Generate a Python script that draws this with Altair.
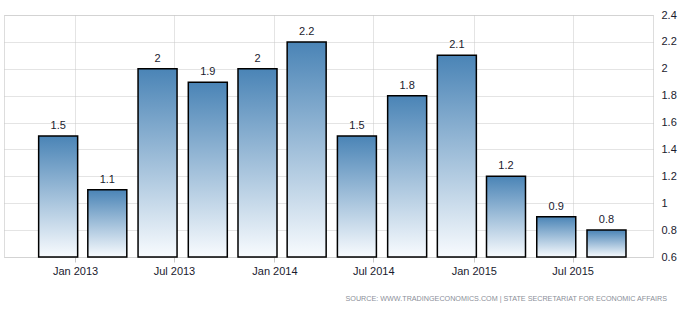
import altair as alt
import pandas as pd

dates = ["2012-12-01", "2013-03-01", "2013-06-01", "2013-09-01",
         "2013-12-01", "2014-03-01", "2014-06-01", "2014-09-01",
         "2014-12-01", "2015-03-01", "2015-06-01", "2015-09-01"]
values = [1.5, 1.1, 2.0, 1.9, 2.0, 2.2, 1.5, 1.8, 2.1, 1.2, 0.9, 0.8]
labels = ["1.5", "1.1", "2", "1.9", "2", "2.2", "1.5", "1.8", "2.1", "1.2", "0.9", "0.8"]
y_ticks = [0.6, 0.8, 1.0, 1.2, 1.4, 1.6, 1.8, 2.0, 2.2, 2.4]
tick_dates = [(2013, 1), (2013, 7), (2014, 1), (2014, 7), (2015, 1), (2015, 7)]
source = "SOURCE: WWW.TRADINGECONOMICS.COM | STATE SECRETARIAT FOR ECONOMIC AFFAIRS"

df = pd.DataFrame({"date": dates, "value": values, "label": labels})

FONT = "Liberation Sans"
GRID = "#c8c8c8"
TXT = "#1a1a2e"

x_scale = alt.Scale(
    type="utc",
    domain=[alt.DateTime(year=2012, month=9, date=2, utc=True),
            alt.DateTime(year=2015, month=11, date=16, utc=True)],
)
y_scale = alt.Scale(domain=[0.6, 2.4], zero=False, nice=False)

x_axis = alt.Axis(
    title=None,
    values=[alt.DateTime(year=yy, month=mm, date=1, utc=True) for yy, mm in tick_dates],
    format="%b %Y",
    domain=False,
    grid=True,
    gridColor=GRID,
    gridDash=[1, 1],
    ticks=True,
    tickColor=GRID,
    tickSize=5,
    labelPadding=3,
    labelFont=FONT,
    labelFontSize=11,
    labelColor=TXT,
    labelOverlap=False,
)

y_axis = alt.Axis(
    title=None,
    orient="right",
    values=y_ticks,
    format="~g",
    domain=False,
    ticks=False,
    grid=True,
    gridColor=GRID,
    gridDash=[1, 1],
    labelPadding=8,
    labelFont=FONT,
    labelFontSize=11,
    labelColor=TXT,
    labelOverlap=False,
    labelFlush=False,
)

x_enc = alt.X("date:T", scale=x_scale, axis=x_axis)
y_enc = alt.Y("value:Q", scale=y_scale, axis=y_axis)

base = alt.Chart(df)

bars = base.mark_bar(
    size=39,
    stroke="black",
    strokeWidth=1.5,
    fill=alt.Gradient(
        gradient="linear",
        x1=0, y1=0, x2=0, y2=1,
        stops=[alt.GradientStop(offset=0, color="#4a84b6"),
               alt.GradientStop(offset=1, color="#f8fbfe")],
    ),
).encode(x=x_enc, y=y_enc, y2=alt.datum(0.6))

texts = base.mark_text(
    font=FONT, fontSize=11, color=TXT, baseline="alphabetic", dy=-7
).encode(x=x_enc, y=y_enc, text="label:N")

src = alt.Chart(pd.DataFrame({"t": [source]})).mark_text(
    font=FONT, fontSize=7.2, color="#8b8f99", align="right", baseline="middle"
).encode(x=alt.value(663), y=alt.value(284), text="t:N")

chart = alt.layer(bars, texts, src).properties(
    width=649,
    height=242,
    autosize=alt.AutoSizeParams(type="none"),
    padding={"left": 4, "top": 15, "right": 39, "bottom": 53},
).configure_view(stroke="transparent", strokeWidth=0).configure(background="white")

chart.save("out.html", embed_options={"renderer": "svg", "actions": False})
